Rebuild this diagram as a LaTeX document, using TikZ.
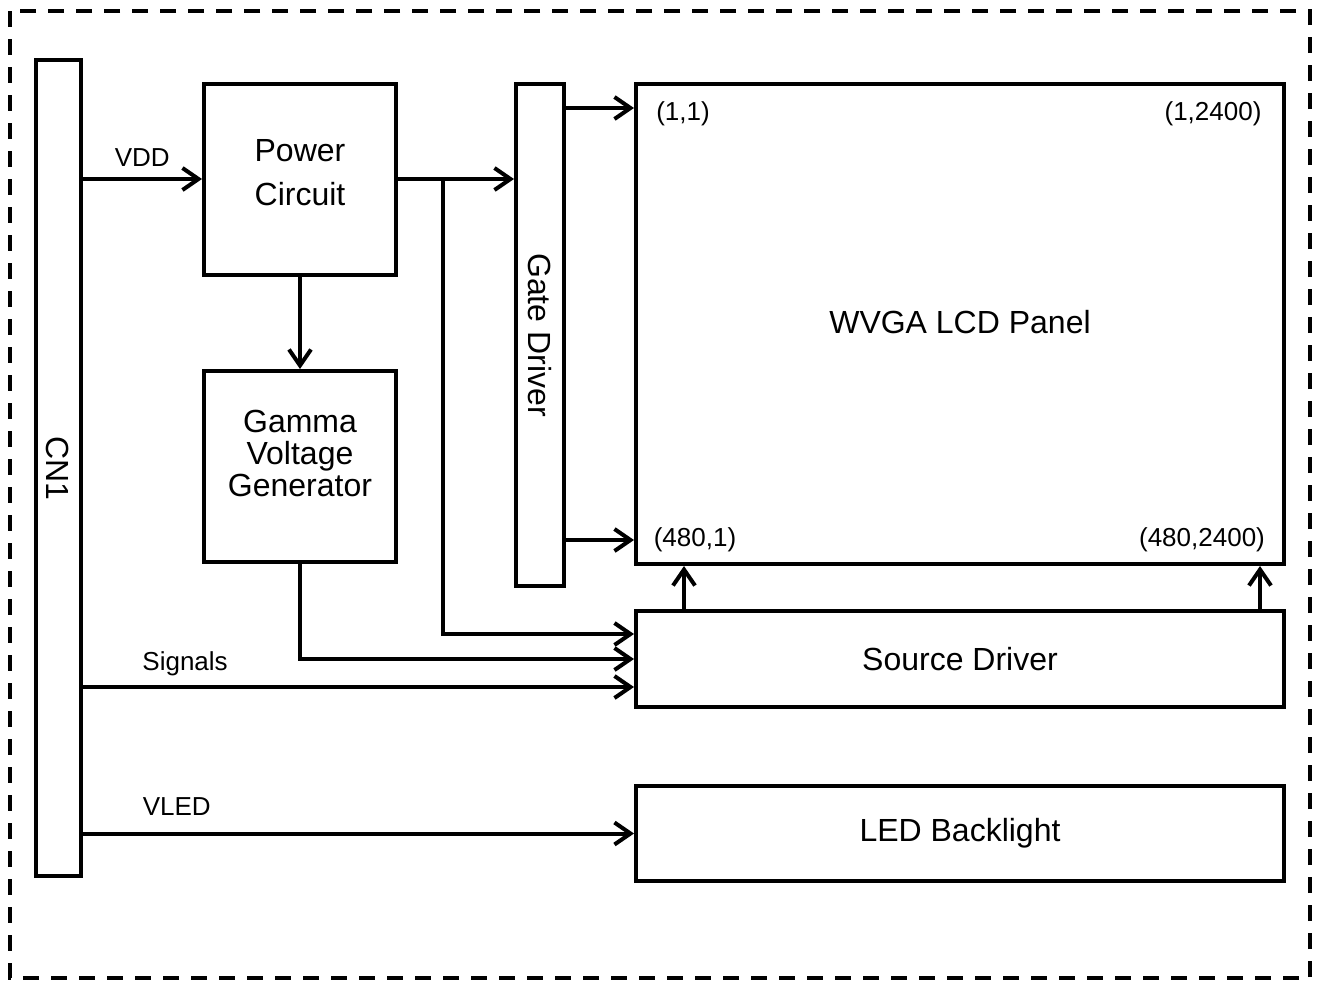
\documentclass[tikz,border=0pt]{standalone}
\usepackage{fontspec}
\setmainfont{Liberation Sans}
\usetikzlibrary{arrows.meta}
\tikzset{
  box/.style={draw=black, line width=2pt, rectangle, inner sep=0pt, font=\fontsize{16}{19}\selectfont},
  arr/.style={line width=2pt, -{Straight Barb[length=8pt, width=11pt, line width=2pt]}},
  lbl/.style={font=\fontsize{13}{15}\selectfont, inner sep=2pt},
  big/.style={font=\fontsize{16}{19}\selectfont, align=center}
}
\begin{document}
\begin{tikzpicture}[x=0.5pt, y=-0.5pt]
\useasboundingbox (0,0) rectangle (1317,981);
\draw[line width=2pt, dash pattern=on 8pt off 6pt] (10,11) rectangle (1310,978);

\node [box, minimum width=22.5pt, minimum height=408pt] (cn1) at (58,468) {};
\node [big, rotate=-90] at (cn1) {CN1};
\node [box, minimum width=96pt, minimum height=95.5pt] (power) at (300,179) {};
\node [big] at (300,173) {Power\\[3pt]Circuit};
\node [box, minimum width=96pt, minimum height=95.5pt] (gamma) at (300,466.5) {};
\node [big, font=\fontsize{16}{16}\selectfont] at (300,453) {Gamma\\Voltage\\Generator};
\node [box, minimum width=24pt, minimum height=251pt] (gate) at (540,335) {};
\node [big, rotate=-90] at (gate) {Gate Driver};
\node [box, minimum width=324pt, minimum height=240pt] (lcd) at (960,324) {};
\node [big] at (960,322) {WVGA LCD Panel};
\node [box, minimum width=324pt, minimum height=48pt] (source) at (960,659) {Source Driver};
\node [box, minimum width=324pt, minimum height=47.5pt] (led) at (960,833.5) {LED Backlight};

\node [lbl] (p11) at (683,114) {(1,1)};
\node [lbl] (p12400) at (1213,114) {(1,2400)};
\node [lbl] (p4801) at (695,540) {(480,1)};
\node [lbl] (p4802400) at (1202,540) {(480,2400)};

\coordinate (tap) at (443,180);
\draw[arr] (cn1.east |- power.west) -- node[lbl, above=3.5pt] {VDD} (power.west);
\draw[arr] (power.east) -- (gate.west |- power.east);
\draw[arr] (tap) |- ([yshift=12.5pt]source.west);
\draw[arr] (power.south) -- (gamma.north);
\draw[arr] (gamma.south) |- (source.west);
\draw[arr] (cn1.east |- 0,687) -- node[lbl, above=2.5pt, pos=0.186] {Signals} ([yshift=-14pt]source.west);
\draw[arr] (gate.east |- 0,108) -- (lcd.west |- 0,108);
\draw[arr] (gate.east |- 0,540) -- (lcd.west |- 0,540);
\draw[arr] (source.north -| 684,0) -- (lcd.south -| 684,0);
\draw[arr] (source.north -| 1260,0) -- (lcd.south -| 1260,0);
\draw[arr] (cn1.east |- led.west) -- node[lbl, above=6pt, pos=0.171] {VLED} (led.west);
\end{tikzpicture}
\end{document}
